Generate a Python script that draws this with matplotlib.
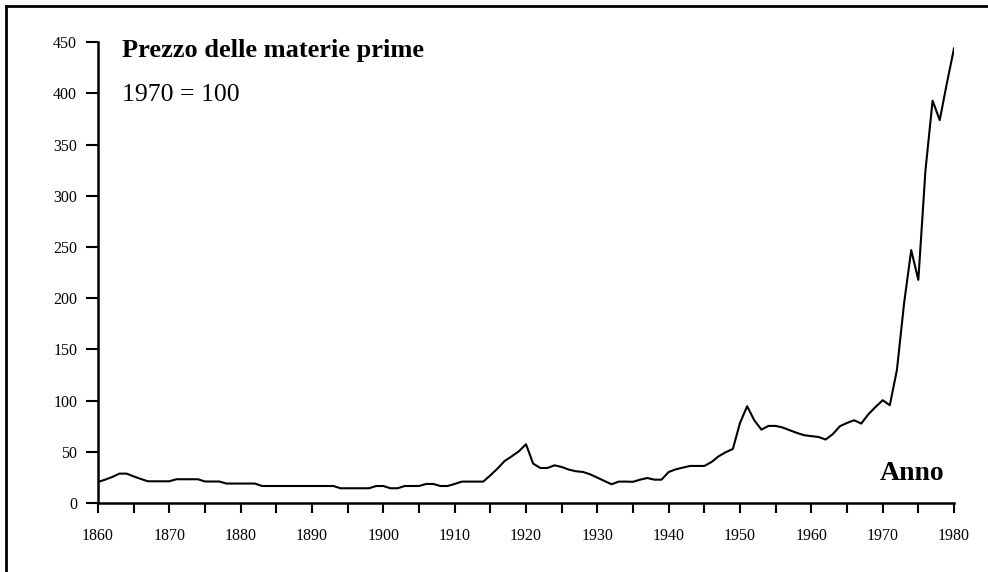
import numpy as np
import matplotlib.pyplot as plt
from matplotlib.lines import Line2D

anni = list(range(1860, 1981))
prezzo = [
    20.5, 22.8, 25.4, 28.7, 28.7, 26.0, 23.5, 21.2, 21.2, 21.2,   # 1860-1869
    21.2, 23.2, 23.2, 23.2, 23.2, 21.0, 21.0, 21.0, 19.0, 19.0,   # 1870-1879
    19.0, 19.0, 19.0, 16.6, 16.6, 16.6, 16.6, 16.6, 16.6, 16.6,   # 1880-1889
    16.6, 16.6, 16.6, 16.6, 14.4, 14.4, 14.4, 14.4, 14.4, 16.6,   # 1890-1899
    16.6, 14.4, 14.4, 16.6, 16.6, 16.6, 18.6, 18.6, 16.6, 16.6,   # 1900-1909
    18.6, 20.9, 20.9, 20.9, 20.9, 27.0, 33.6, 41.0, 45.6, 50.5,   # 1910-1919
    57.4, 38.5, 34.2, 34.2, 36.8, 35.2, 32.6, 31.0, 30.3, 28.0,   # 1920-1929
    24.8, 21.5, 18.3, 20.9, 20.9, 20.7, 22.8, 24.4, 22.8, 22.8,   # 1930-1939
    30.3, 32.9, 34.6, 36.2, 36.2, 36.2, 40.0, 45.6, 49.6, 52.8,   # 1940-1949
    78.2, 94.5, 80.8, 71.7, 75.3, 75.3, 73.7, 71.0, 68.4, 66.2,   # 1950-1959
    65.3, 64.5, 62.0, 67.2, 75.0, 78.2, 80.8, 77.6, 86.7, 93.8,   # 1960-1969
    100.4, 95.5, 130.0, 195.0, 247.0, 218.0, 325.0, 393.0, 374.0, 410.0,  # 1970-1979
    444.0,                                                         # 1980
]

x_ticks = list(range(1860, 1981, 10))
x_minor = list(range(1865, 1980, 10))
y_ticks = list(range(0, 451, 50))

serif = ['Liberation Serif', 'DejaVu Serif']

fig = plt.figure(figsize=(9.88, 5.72), dpi=100)
ax = fig.add_axes([98 / 988, 1 - 503 / 572, (954 - 98) / 988, (503 - 42.3) / 572])

ax.plot(anni, prezzo, color='black', linewidth=1.5)

ax.set_xlim(1860, 1980)
ax.set_ylim(0, 450)
ax.set_xticks(x_ticks)
ax.set_xticks(x_minor, minor=True)
ax.set_yticks(y_ticks)

for lab in ax.get_xticklabels() + ax.get_yticklabels():
    lab.set_family(serif)
    lab.set_fontsize(11.5)

ax.tick_params(axis='x', which='both', direction='out', length=7, width=1.5, pad=11)
ax.tick_params(axis='y', direction='out', length=9, width=1.5, pad=6)

for s in ['top', 'right']:
    ax.spines[s].set_visible(False)
for s in ['left', 'bottom']:
    ax.spines[s].set_linewidth(1.8)

# testi
fig.text(122 / 988, 1 - 51 / 572, 'Prezzo delle materie prime', family=serif,
         fontsize=19, fontweight='bold', va='center', ha='left')
fig.text(122 / 988, 1 - 95 / 572, '1970 = 100', family=serif,
         fontsize=18.5, va='center', ha='left')
fig.text(944 / 988, 1 - 474 / 572, 'Anno', family=serif,
         fontsize=20, fontweight='bold', va='center', ha='right')

# cornice
fig.add_artist(Line2D([6 / 988, 1], [1 - 5.5 / 572, 1 - 5.5 / 572], color='black', linewidth=2))
fig.add_artist(Line2D([6 / 988, 6 / 988], [0, 1 - 5.5 / 572], color='black', linewidth=2))

fig.savefig('out.png', dpi=100)
